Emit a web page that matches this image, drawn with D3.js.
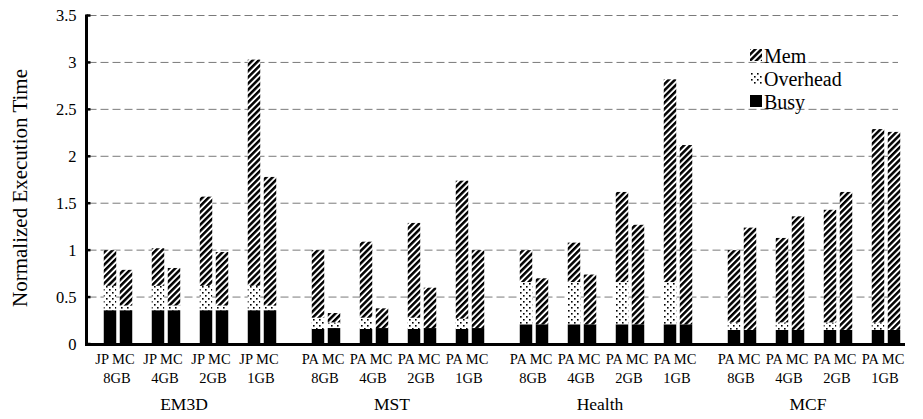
<!DOCTYPE html>
<html>
<head>
<meta charset="utf-8">
<script src="https://cdn.jsdelivr.net/npm/d3@7"></script>
<style>
  html, body { margin: 0; padding: 0; background: #fff; }
  svg { display: block; }
  text { font-family: "Liberation Serif", "Times New Roman", serif; fill: #000; }
</style>
</head>
<body>
<svg id="chart" width="923" height="419"></svg>
<script>
// ---- data (bar order: group -> memory config -> scheme) ----
const groups = ["EM3D", "MST", "Health", "MCF"];
const configs = ["8GB", "4GB", "2GB", "1GB"];
const schemes = [["JP", "MC"], ["PA", "MC"], ["PA", "MC"], ["PA", "MC"]];
const yTicks = [0, 0.5, 1, 1.5, 2, 2.5, 3, 3.5];
const tickLabels = ["0", "0.5", "1", "1.5", "2", "2.5", "3", "3.5"];
const legendLabels = ["Mem", "Overhead", "Busy"];

const busyValues = [
  0.36, 0.36, 0.36, 0.36, 0.36, 0.36, 0.36, 0.36,
  0.16, 0.17, 0.16, 0.17, 0.16, 0.17, 0.16, 0.17,
  0.21, 0.21, 0.21, 0.21, 0.21, 0.21, 0.21, 0.21,
  0.15, 0.15, 0.15, 0.15, 0.15, 0.15, 0.15, 0.15
];
const overheadValues = [
  0.26, 0.05, 0.26, 0.05, 0.26, 0.05, 0.26, 0.05,
  0.12, 0.06, 0.12, 0.00, 0.12, 0.00, 0.11, 0.00,
  0.45, 0.00, 0.45, 0.00, 0.45, 0.00, 0.45, 0.00,
  0.08, 0.00, 0.08, 0.00, 0.08, 0.00, 0.08, 0.00
];
const memValues = [
  0.38, 0.38, 0.40, 0.40, 0.95, 0.57, 2.41, 1.37,
  0.72, 0.10, 0.81, 0.21, 1.01, 0.43, 1.47, 0.83,
  0.34, 0.49, 0.42, 0.53, 0.96, 1.06, 2.16, 1.91,
  0.77, 1.09, 0.90, 1.21, 1.20, 1.47, 2.06, 2.11
];

// ---- build slot list (Excel-style blank categories) ----
const slots = ["lead"];
const bars = [];
let bi = 0;
groups.forEach((g, gi) => {
  configs.forEach((c, ci) => {
    schemes[gi].forEach((s, si) => {
      const key = `${g}|${c}|${s}`;
      slots.push(key);
      bars.push({ key, group: g, config: c, scheme: s, gi, ci,
        busy: busyValues[bi], overhead: overheadValues[bi], mem: memValues[bi] });
      bi++;
    });
    slots.push(`${g}|${c}|gap`);
  });
  slots.push(`${g}|gap`);
});

const svg = d3.select("#chart");
const axisX = 86.5, axisEnd = 905, gridEnd = 898;
const step = 16;

const x = d3.scaleBand()
  .domain(slots)
  .range([86, 86 + slots.length * step])
  .paddingInner(0.22)
  .paddingOuter(0.11);

const y = d3.scaleLinear().domain([0, 3.5]).range([344, 15.5]);

// ---- patterns ----
const defs = svg.append("defs");
const mem = defs.append("pattern")
  .attr("id", "memPat").attr("patternUnits", "userSpaceOnUse")
  .attr("width", 4.4).attr("height", 4.4)
  .attr("patternTransform", "rotate(45)");
mem.append("rect").attr("width", 4.4).attr("height", 4.4).attr("fill", "#fff");
mem.append("rect").attr("width", 2.5).attr("height", 4.4).attr("fill", "#000");

const ovh = defs.append("pattern")
  .attr("id", "ovhPat").attr("patternUnits", "userSpaceOnUse")
  .attr("width", 6).attr("height", 6);
ovh.append("rect").attr("width", 6).attr("height", 6).attr("fill", "#fff");
ovh.append("rect").attr("x", 1).attr("y", 1).attr("width", 1.6).attr("height", 1.6).attr("fill", "#000");
ovh.append("rect").attr("x", 4).attr("y", 4).attr("width", 1.6).attr("height", 1.6).attr("fill", "#000");

const fills = { Mem: "url(#memPat)", Overhead: "url(#ovhPat)", Busy: "#000" };

// ---- gridlines ----
svg.append("g").selectAll("line").data(yTicks.filter(d => d > 0)).join("line")
  .attr("x1", axisX + 2).attr("x2", gridEnd)
  .attr("y1", d => y(d)).attr("y2", d => y(d))
  .attr("stroke", "#7a7a7a").attr("stroke-width", 1)
  .attr("stroke-dasharray", "8,4");

// ---- bars ----
const bw = x.bandwidth();
const barG = svg.append("g");
bars.forEach(b => {
  const segs = [
    { name: "Busy", y0: 0, y1: b.busy },
    { name: "Overhead", y0: b.busy, y1: b.busy + b.overhead },
    { name: "Mem", y0: b.busy + b.overhead, y1: b.busy + b.overhead + b.mem }
  ].filter(s => s.y1 > s.y0);
  barG.selectAll(null).data(segs).join("rect")
    .attr("x", x(b.key)).attr("width", bw)
    .attr("y", s => y(s.y1)).attr("height", s => y(s.y0) - y(s.y1))
    .attr("fill", s => fills[s.name]);
});

// ---- axes ----
svg.append("line").attr("x1", axisX).attr("x2", axisX)
  .attr("y1", y(3.5) - 1).attr("y2", y(0) + 2)
  .attr("stroke", "#000").attr("stroke-width", 3);
svg.append("line").attr("x1", axisX - 1.5).attr("x2", axisEnd)
  .attr("y1", y(0) + 0.5).attr("y2", y(0) + 0.5)
  .attr("stroke", "#000").attr("stroke-width", 3);

const yAxis = d3.axisLeft(y).tickValues(yTicks).tickSize(0).tickPadding(0)
  .tickFormat((d, i) => tickLabels[i]);
const yG = svg.append("g").attr("transform", `translate(${axisX - 10},0)`).call(yAxis);
yG.select(".domain").remove();
yG.selectAll("text").style("font-family", '"Liberation Serif", serif').style("font-size", "16.5px").attr("fill", "#000");

// small tick marks at the axis
svg.append("g").selectAll("line").data(yTicks).join("line")
  .attr("x1", axisX).attr("x2", axisX + 4)
  .attr("y1", d => y(d)).attr("y2", d => y(d))
  .attr("stroke", "#000").attr("stroke-width", 2.5);

// ---- x labels ----
const lab = svg.append("g");
const pairs = d3.groups(bars, b => b.group + "|" + b.config);
const pairCenter = p => (x(p[1][0].key) + x(p[1][1].key) + bw) / 2;
lab.selectAll("text.s").data(pairs).join("text")
  .attr("class", "s")
  .attr("x", p => pairCenter(p) - 3)
  .attr("y", 364)
  .attr("text-anchor", "middle")
  .style("font-size", "14.5px")
  .text(p => p[1].map(b => b.scheme).join(" "));

lab.selectAll("text.c").data(pairs).join("text")
  .attr("class", "c")
  .attr("x", p => pairCenter(p) - 1)
  .attr("y", 383)
  .attr("text-anchor", "middle")
  .style("font-size", "14.5px")
  .text(p => p[1][0].config);

const grp = d3.groups(bars, b => b.group);
lab.selectAll("text.g").data(grp).join("text")
  .attr("class", "g")
  .attr("x", g => (x(g[1][0].key) + x(g[1][g[1].length - 1].key) + bw) / 2 - 6)
  .attr("y", 410)
  .attr("text-anchor", "middle")
  .style("font-size", "17.5px")
  .text(g => g[0]);

// ---- y title ----
svg.append("text")
  .attr("transform", `translate(27,188) rotate(-90)`)
  .attr("text-anchor", "middle")
  .style("font-size", "21px")
  .text("Normalized Execution Time");

// ---- legend ----
const ly = d3.scalePoint().domain(legendLabels).range([55, 101]);
const lg = svg.append("g");
lg.selectAll("rect").data(legendLabels).join("rect")
  .attr("x", 750).attr("y", d => ly(d) - 6).attr("width", 12).attr("height", 12)
  .attr("fill", d => fills[d]);
lg.selectAll("text").data(legendLabels).join("text")
  .attr("x", 764).attr("y", d => ly(d) + 1)
  .attr("dominant-baseline", "central")
  .style("font-size", "20px")
  .text(d => d);
</script>
</body>
</html>
